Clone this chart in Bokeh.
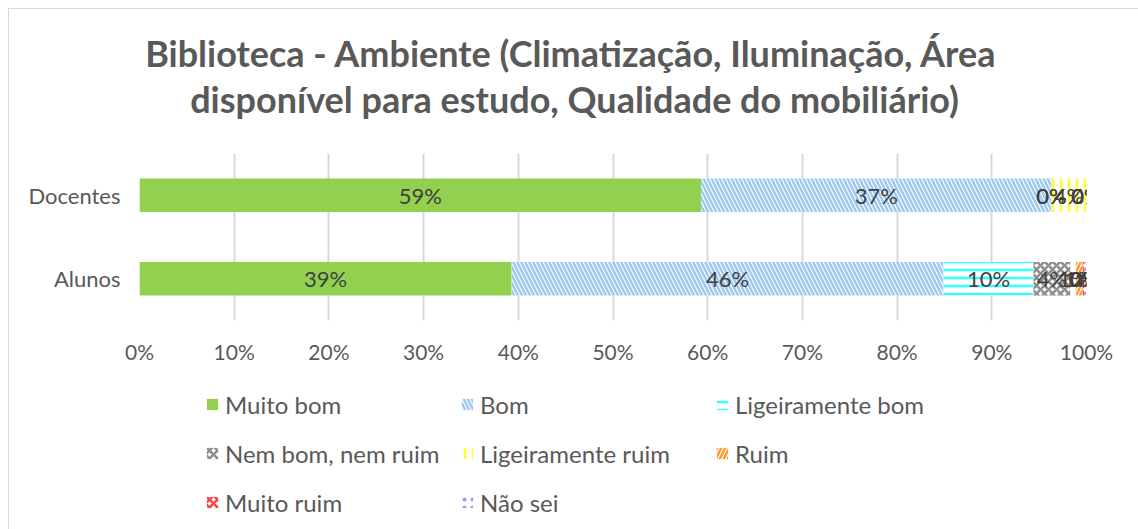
from bokeh.plotting import figure
from bokeh.layouts import column
from bokeh.models import (Legend, LegendItem, ColumnDataSource, FixedTicker, Range1d,
                          Label, InlineStyleSheet)
from bokeh.core.properties import value
from bokeh.embed import file_html
from bokeh.resources import INLINE

categories = ["Alunos", "Docentes"]
series = ["Muito bom", "Bom", "Ligeiramente bom", "Nem bom, nem ruim",
          "Ligeiramente ruim", "Ruim", "Muito ruim", "Não sei"]
docentes = [59.3, 37.0, 0.0, 0.0, 3.7, 0.0, 0.0, 0.0]
alunos = [39.3, 45.6, 9.5, 3.9, 0.6, 0.7, 0.2, 0.2]
tick_values = [0, 10, 20, 30, 40, 50, 60, 70, 80, 90, 100]
title_lines = ["Biblioteca - Ambiente (Climatização, Iluminação, Área",
               "disponível para estudo, Qualidade do mobiliário)"]

styles = [
    dict(fill_color="#92D050", hatch_pattern=None, hatch_color=None),
    dict(fill_color="white", hatch_pattern="\\", hatch_color="#9DC8F0"),
    dict(fill_color="white", hatch_pattern="-", hatch_color="#33FFFF"),
    dict(fill_color="white", hatch_pattern="x", hatch_color="#8C8C8C"),
    dict(fill_color="white", hatch_pattern="|", hatch_color="#FFFF33"),
    dict(fill_color="white", hatch_pattern="/", hatch_color="#FF9933"),
    dict(fill_color="white", hatch_pattern="x", hatch_color="#FF4040"),
    dict(fill_color="white", hatch_pattern=".", hatch_color="#B38CFF"),
]

def glyph_kw(st):
    kw = dict(fill_color=st["fill_color"], line_color=None)
    if st["hatch_pattern"]:
        kw.update(hatch_pattern=st["hatch_pattern"], hatch_color=st["hatch_color"],
                  hatch_scale=8, hatch_weight=2.5)
    return kw

FONT = "Lato"
W = 1122
HA, HB, HC = 145, 238, 142
FX0, FX1 = 139, 1086   # frame left / right in page pixels (frames align in the column)

def bare(fig):
    fig.grid.visible = False
    fig.outline_line_color = None
    return fig

# ---- title figure
fa = bare(figure(width=W, height=HA, x_range=Range1d(FX0, FX1), y_range=Range1d(HA, 0),
                 output_backend="svg", toolbar_location=None, title=None,
                 x_axis_location=None, y_axis_location=None,
                 min_border_left=0, min_border_right=0, min_border_top=0, min_border_bottom=0))
for txt, x, y in [(title_lines[0], 571, 52), (title_lines[1], 574, 98)]:
    fa.add_layout(Label(x=x, y=y, text=txt, text_align="center", text_baseline="middle",
                        text_font=FONT, text_font_size="36px", text_font_style="bold",
                        text_color="#595959"))

# ---- chart figure
p = figure(width=W, height=HB, y_range=categories, x_range=Range1d(0, 100),
           output_backend="svg", toolbar_location=None, title=None,
           min_border_left=FX0, min_border_right=W - FX1, min_border_bottom=63,
           min_border_top=8)

data = {"Alunos": alunos, "Docentes": docentes}
srcs = []
for i, name in enumerate(series):
    lefts = [sum(data[c][:i]) for c in categories]
    rights = [sum(data[c][:i + 1]) for c in categories]
    vals = [data[c][i] for c in categories]
    src = ColumnDataSource(dict(y=categories, left=lefts, right=rights,
                                mid=[(l + r) / 2 for l, r in zip(lefts, rights)],
                                lab=["%d%%" % round(v) for v in vals]))
    p.hbar(y="y", left="left", right="right", height=0.4, source=src, **glyph_kw(styles[i]))
    srcs.append(src)

for src in srcs:
    p.text(x="mid", y="y", text="lab", source=src, text_align="center",
           text_baseline="middle", text_font=value(FONT), text_font_size="22px",
           text_color="#404040")

p.xaxis.ticker = FixedTicker(ticks=tick_values)
p.xaxis.major_label_overrides = {t: "%d%%" % t for t in tick_values}
p.xaxis.axis_line_color = None
p.xaxis.major_tick_line_color = None
p.xaxis.minor_tick_line_color = None
p.xaxis.major_label_text_font = FONT
p.xaxis.major_label_text_font_size = "21px"
p.xaxis.major_label_text_color = "#595959"
p.xaxis.major_label_standoff = 12

p.yaxis.axis_line_color = None
p.yaxis.major_tick_line_color = None
p.yaxis.major_label_text_font = FONT
p.yaxis.major_label_text_font_size = "22px"
p.yaxis.major_label_text_color = "#595959"
p.yaxis.major_label_standoff = 13

p.ygrid.grid_line_color = None
p.xgrid.grid_line_color = "#D9D9D9"
p.xgrid.grid_line_width = 2
p.outline_line_color = None
p.y_range.range_padding = 0

# ---- legend figure
q = bare(figure(width=W, height=HC, x_range=Range1d(FX0, FX1), y_range=Range1d(0, 1),
                output_backend="svg", toolbar_location=None, title=None,
                x_axis_location=None, y_axis_location=None,
                min_border_left=0, min_border_right=0, min_border_top=0, min_border_bottom=0))
items = []
for i, name in enumerate(series):
    r = q.hbar(y=[0.5], left=[FX0], right=[FX0], height=0.0, **glyph_kw(styles[i]))
    items.append(LegendItem(label=name, renderers=[r]))

legend = Legend(items=items, ncols=3, location=(66, 4), orientation="horizontal",
                label_text_font=FONT, label_text_font_size="24px",
                label_text_color="#595959", glyph_width=14, glyph_height=14,
                label_width=224, label_height=38, spacing=11,
                border_line_color=None, background_fill_alpha=0,
                padding=0, margin=0, label_standoff=6)
q.add_layout(legend, "center")

css = InlineStyleSheet(css=":host { position: relative; } :host::after { content: ''; position: absolute; left: 8px; top: 8px; width: 2000px; height: 2000px; border: 1px solid #D9D9D9; pointer-events: none; }")
layout = column(fa, p, q, spacing=0, stylesheets=[css])
open("out.html", "w").write(file_html(layout, INLINE))
